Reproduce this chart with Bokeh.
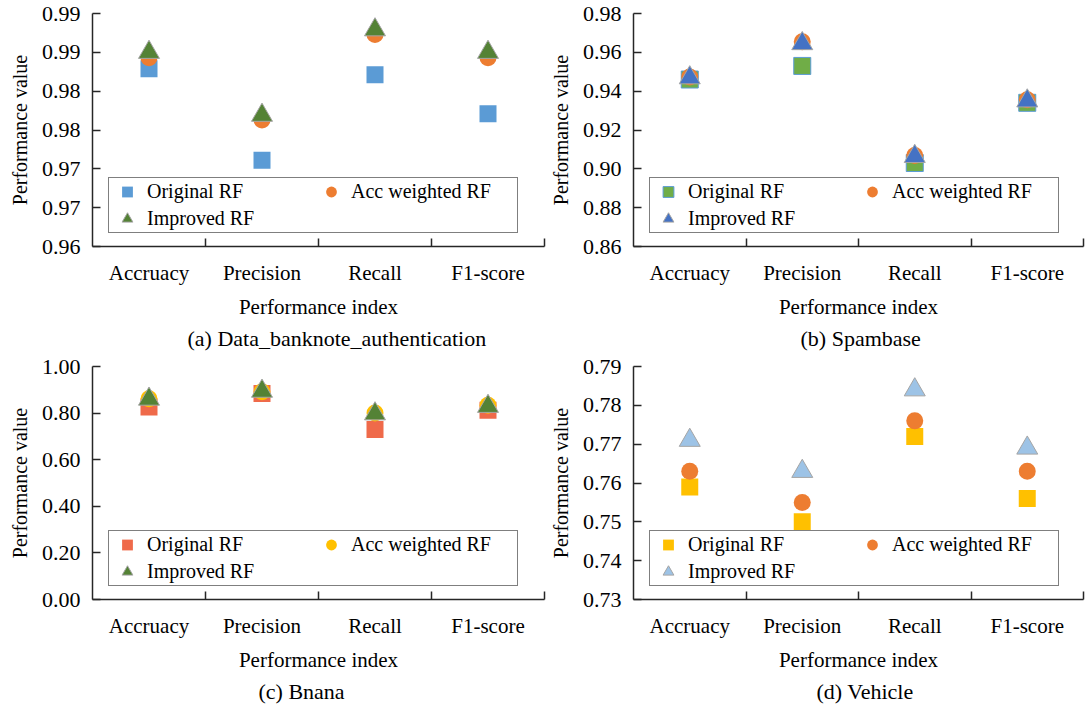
from bokeh.plotting import figure
from bokeh.layouts import gridplot
from bokeh.models import (FixedTicker, Legend, LegendItem, Title, ColumnDataSource, Range1d)
from bokeh.embed import file_html
from bokeh.resources import INLINE

FONT = "Liberation Serif"

categories = ["Accruacy", "Precision", "Recall", "F1-score"]
series_names = ["Original RF", "Acc weighted RF", "Improved RF"]
x_axis_title = "Performance index"
y_axis_title = "Performance value"

# (a) Data_banknote_authentication
a_caption = "(a) Data_banknote_authentication"
a_original = [0.9829, 0.9711, 0.9821, 0.9771]
a_acc_weighted = [0.9843, 0.9763, 0.9873, 0.9843]
a_improved = [0.9850, 0.9769, 0.9879, 0.9850]
a_ticks = [0.960, 0.965, 0.970, 0.975, 0.980, 0.985, 0.990]
a_tick_labels = ["0.96", "0.97", "0.97", "0.98", "0.98", "0.99", "0.99"]

# (b) Spambase
b_caption = "(b) Spambase"
b_original = [0.946, 0.953, 0.903, 0.934]
b_acc_weighted = [0.9473, 0.9655, 0.9069, 0.9356]
b_improved = [0.9469, 0.9645, 0.9064, 0.9350]
b_ticks = [0.86, 0.88, 0.90, 0.92, 0.94, 0.96, 0.98]
b_tick_labels = ["0.86", "0.88", "0.90", "0.92", "0.94", "0.96", "0.98"]

# (c) Bnana
c_caption = "(c) Bnana"
c_original = [0.826, 0.884, 0.730, 0.812]
c_acc_weighted = [0.862, 0.892, 0.800, 0.834]
c_improved = [0.860, 0.894, 0.797, 0.829]
c_ticks = [0.0, 0.2, 0.4, 0.6, 0.8, 1.0]
c_tick_labels = ["0.00", "0.20", "0.40", "0.60", "0.80", "1.00"]

# (d) Vehicle
d_caption = "(d) Vehicle"
d_original = [0.759, 0.750, 0.772, 0.756]
d_acc_weighted = [0.763, 0.755, 0.776, 0.763]
d_improved = [0.771, 0.763, 0.784, 0.769]
d_ticks = [0.73, 0.74, 0.75, 0.76, 0.77, 0.78, 0.79]
d_tick_labels = ["0.73", "0.74", "0.75", "0.76", "0.77", "0.78", "0.79"]

AXIS_COLOR = "#262626"
TRI_EDGE = "#A5A5A5"


def key(v):
    return int(v) if float(v).is_integer() else v


def make_panel(caption, orig, accw, imp, yticks, ylabels, colors, width,
               border_left, caption_offset):
    n = len(categories)
    xs = [i + 0.5 for i in range(n)]
    p = figure(width=width, height=353, output_backend="svg", toolbar_location=None,
               x_range=Range1d(0, n), y_range=Range1d(yticks[0], yticks[-1]),
               min_border_left=border_left, min_border_right=2,
               min_border_top=13, min_border_bottom=0,
               outline_line_color=None, background_fill_color="white",
               border_fill_color="white")
    p.xgrid.visible = False
    p.ygrid.visible = False

    src = ColumnDataSource(dict(x=xs, orig=orig, accw=accw, imp=imp))
    sq_fill, sq_line, ci_fill, tr_fill = colors
    r1 = p.scatter("x", "orig", source=src, marker="square", size=17,
                   fill_color=sq_fill, line_color=sq_line, line_width=1)
    r2 = p.scatter("x", "accw", source=src, marker="circle", size=17,
                   fill_color=ci_fill, line_color=None)
    r3 = p.scatter("x", "imp", source=src, marker="triangle", size=21,
                   fill_color=tr_fill, line_color=TRI_EDGE, line_width=1)

    # x axis
    xa = p.xaxis[0]
    xa.ticker = FixedTicker(ticks=xs, minor_ticks=list(range(1, n + 1)))
    xa.major_label_overrides = {x: c for x, c in zip(xs, categories)}
    xa.major_tick_in = 0
    xa.major_tick_out = 0
    xa.minor_tick_in = 8
    xa.minor_tick_out = 0
    xa.minor_tick_line_color = AXIS_COLOR
    xa.minor_tick_line_width = 1.5
    xa.axis_line_color = AXIS_COLOR
    xa.axis_line_width = 1.5
    xa.major_label_text_font = FONT
    xa.major_label_text_font_size = "21px"
    xa.major_label_text_color = "black"
    xa.major_label_standoff = 14
    xa.axis_label = x_axis_title
    xa.axis_label_text_font = FONT
    xa.axis_label_text_font_size = "21px"
    xa.axis_label_text_font_style = "normal"
    xa.axis_label_text_color = "black"
    xa.axis_label_standoff = 7

    # y axis
    ya = p.yaxis[0]
    ya.ticker = FixedTicker(ticks=yticks)
    ya.major_label_overrides = {key(t): l for t, l in zip(yticks, ylabels)}
    ya.major_tick_in = 8
    ya.major_tick_out = 0
    ya.minor_tick_in = 0
    ya.minor_tick_out = 0
    ya.major_tick_line_color = AXIS_COLOR
    ya.major_tick_line_width = 1.5
    ya.axis_line_color = AXIS_COLOR
    ya.axis_line_width = 1.5
    ya.major_label_text_font = FONT
    ya.major_label_text_font_size = "22px"
    ya.major_label_text_color = "black"
    ya.major_label_standoff = 12
    ya.axis_label = y_axis_title
    ya.axis_label_text_font = FONT
    ya.axis_label_text_font_size = "20px"
    ya.axis_label_text_font_style = "normal"
    ya.axis_label_text_color = "black"
    ya.axis_label_standoff = 8

    legend = Legend(items=[LegendItem(label=series_names[0], renderers=[r1]),
                           LegendItem(label=series_names[1], renderers=[r2]),
                           LegendItem(label=series_names[2], renderers=[r3])],
                    location=(16, 13), orientation="horizontal", ncols=2,
                    label_text_font=FONT, label_text_font_size="20px",
                    label_text_color="black",
                    glyph_width=36, glyph_height=27, label_height=24,
                    label_width=166,
                    label_standoff=2, spacing=0, padding=0, margin=0,
                    border_line_color="black", border_line_width=1.5,
                    background_fill_color="white", background_fill_alpha=1.0)
    p.add_layout(legend)

    t = Title(text=caption, align="left", offset=caption_offset,
              text_font=FONT, text_font_size="22px", text_font_style="normal",
              text_color="black", standoff=5)
    p.add_layout(t, "below")
    return p


pa = make_panel(a_caption, a_original, a_acc_weighted, a_improved, a_ticks, a_tick_labels,
                ("#5B9BD5", None, "#ED7D31", "#548235"), 546, 92, 95)
pb = make_panel(b_caption, b_original, b_acc_weighted, b_improved, b_ticks, b_tick_labels,
                ("#70AD47", "#5B9BD5", "#ED7D31", "#4472C4"), 539, 83, 167)
pc = make_panel(c_caption, c_original, c_acc_weighted, c_improved, c_ticks, c_tick_labels,
                ("#EF6A4A", None, "#FFC000", "#548235"), 546, 92, 166)
pd = make_panel(d_caption, d_original, d_acc_weighted, d_improved, d_ticks, d_tick_labels,
                ("#FFC000", None, "#ED7D31", "#9DC3E6"), 539, 83, 183)

grid = gridplot([[pa, pb], [pc, pd]], toolbar_location=None)

open("out.html", "w").write(file_html(grid, INLINE))
